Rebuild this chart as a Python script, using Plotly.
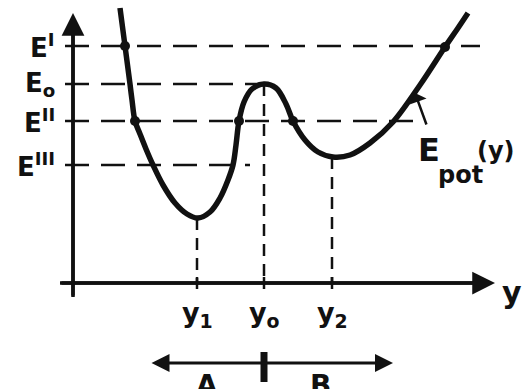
import plotly.graph_objects as go

# ---- data (diagram units: horizontal = position y, vertical = energy) ----
curve_pos = [47, 52, 57, 59, 62, 67, 73, 80, 90, 102, 114, 125, 137, 147, 155, 160, 163, 166, 171, 179,
             191, 203, 213, 220, 232, 245, 260, 277, 297, 320, 347, 372, 385, 395]
curve_energy = [275, 237, 199, 183, 162, 149, 134, 118, 98, 80, 69, 65, 71, 85, 103, 118, 138, 162, 181, 194,
                199, 195, 179, 162, 143, 131, 126, 128, 140, 161, 198, 236, 255, 270]

level_names = ["E<sup>I</sup>", "E<sub>o</sub>", "E<sup>II</sup>", "E<sup>III</sup>"]
level_values = [237, 199, 162, 118]
level_ends = [407, 191, 340, 177]

point_names = ["y<sub>1</sub>", "y<sub>o</sub>", "y<sub>2</sub>"]
point_pos = [124, 191, 259]
point_energy = [65, 199, 126]

cross_pos = [52, 62, 166, 220, 372]
cross_energy = [237, 162, 162, 162, 236]

region_names = ["A", "B"]
region_pos = [134, 247]

INK = "#111111"
FONT = "DejaVu Sans"

fig = go.Figure()

# dashed energy levels
for v, end in zip(level_values, level_ends):
    fig.add_trace(go.Scatter(x=[-8, end], y=[v, v], mode="lines",
                             line=dict(color=INK, width=2.5, dash="24px,12px"),
                             hoverinfo="skip", showlegend=False))

# dashed verticals from extrema to axis
for p, e in zip(point_pos, point_energy):
    fig.add_trace(go.Scatter(x=[p, p], y=[e, 0], mode="lines",
                             line=dict(color=INK, width=2.5, dash="12px,8px"),
                             hoverinfo="skip", showlegend=False))

# potential curve
fig.add_trace(go.Scatter(x=curve_pos, y=curve_energy, mode="lines",
                         line=dict(color=INK, width=5.5, shape="spline", smoothing=1.0),
                         hoverinfo="skip", showlegend=False))

# intersection dots
fig.add_trace(go.Scatter(x=cross_pos, y=cross_energy, mode="markers",
                         marker=dict(color=INK, size=10),
                         hoverinfo="skip", showlegend=False))

annotations = []
# axes with arrows
annotations.append(dict(x=422, y=0, ax=-13, ay=0, xref="x", yref="y", axref="x", ayref="y",
                        showarrow=True, arrowhead=2, arrowsize=1.3, arrowwidth=3.5,
                        arrowcolor=INK, text=""))
annotations.append(dict(x=0, y=270, ax=0, ay=-14, xref="x", yref="y", axref="x", ayref="y",
                        showarrow=True, arrowhead=2, arrowsize=1.3, arrowwidth=3.5,
                        arrowcolor=INK, text=""))
# axis name
annotations.append(dict(x=439, y=-9, xref="x", yref="y", text="<b>y</b>", showarrow=False,
                        font=dict(family=FONT, size=30, color=INK)))

# level labels
for name, v in zip(level_names, level_values):
    annotations.append(dict(x=-16, y=v, xref="x", yref="y", text="<b>" + name + "</b>",
                            showarrow=False, xanchor="right", yanchor="middle",
                            font=dict(family=FONT, size=26, color=INK)))

# position labels
for name, p in zip(point_names, point_pos):
    annotations.append(dict(x=p, y=-12, xref="x", yref="y", text="<b>" + name + "</b>",
                            showarrow=False, xanchor="center", yanchor="top",
                            font=dict(family=FONT, size=27, color=INK)))

# curve label (E, pot, (y)) + pointer
annotations.append(dict(x=356, y=133, xref="x", yref="y", text="<b>E</b>",
                        showarrow=False, xanchor="center", yanchor="middle",
                        font=dict(family=FONT, size=32, color=INK)))
annotations.append(dict(x=387, y=108, xref="x", yref="y", text="<b>pot</b>",
                        showarrow=False, xanchor="center", yanchor="middle",
                        font=dict(family=FONT, size=24, color=INK)))
annotations.append(dict(x=423, y=132, xref="x", yref="y", text="<b>(y)</b>",
                        showarrow=False, xanchor="center", yanchor="middle",
                        font=dict(family=FONT, size=24, color=INK)))
annotations.append(dict(x=342, y=190, ax=354, ay=157, xref="x", yref="y", axref="x", ayref="y",
                        showarrow=True, arrowhead=1, arrowsize=1.2, arrowwidth=2.5,
                        arrowcolor=INK, text=""))

# bottom double arrow
annotations.append(dict(x=320, y=-80, ax=77, ay=-80, xref="x", yref="y", axref="x", ayref="y",
                        showarrow=True, arrowhead=2, startarrowhead=2, arrowside="end+start",
                        arrowsize=1.2, startarrowsize=1.2, arrowwidth=3,
                        arrowcolor=INK, text=""))
for name, p in zip(region_names, region_pos):
    annotations.append(dict(x=p, y=-84, xref="x", yref="y", text="<b>" + name + "</b>",
                            showarrow=False, xanchor="center", yanchor="top",
                            font=dict(family=FONT, size=28, color=INK)))

shapes = [
    # axes lines
    dict(type="line", xref="x", yref="y", x0=-13, x1=410, y0=0, y1=0,
         line=dict(color=INK, width=3.5)),
    dict(type="line", xref="x", yref="y", x0=0, x1=0, y0=-14, y1=262,
         line=dict(color=INK, width=3.5)),
    # tick at middle of bottom arrow
    dict(type="line", xref="x", yref="y", x0=point_pos[1], x1=point_pos[1], y0=-69, y1=-99,
         line=dict(color=INK, width=7)),
]
# small ticks on the horizontal axis
for p in point_pos:
    shapes.append(dict(type="line", xref="x", yref="y", x0=p, x1=p, y0=-6, y1=6,
                       line=dict(color=INK, width=2.5)))

fig.update_layout(
    width=528, height=389,
    margin=dict(l=0, r=0, t=0, b=0),
    paper_bgcolor="white", plot_bgcolor="white",
    xaxis=dict(range=[-73, 455], visible=False, fixedrange=True),
    yaxis=dict(range=[-106, 283], visible=False, fixedrange=True),
    annotations=annotations, shapes=shapes,
    showlegend=False,
)

fig.write_html("out.html", config={"displayModeBar": False},
               post_script="document.body.style.margin='0';document.body.style.overflow='hidden';")
